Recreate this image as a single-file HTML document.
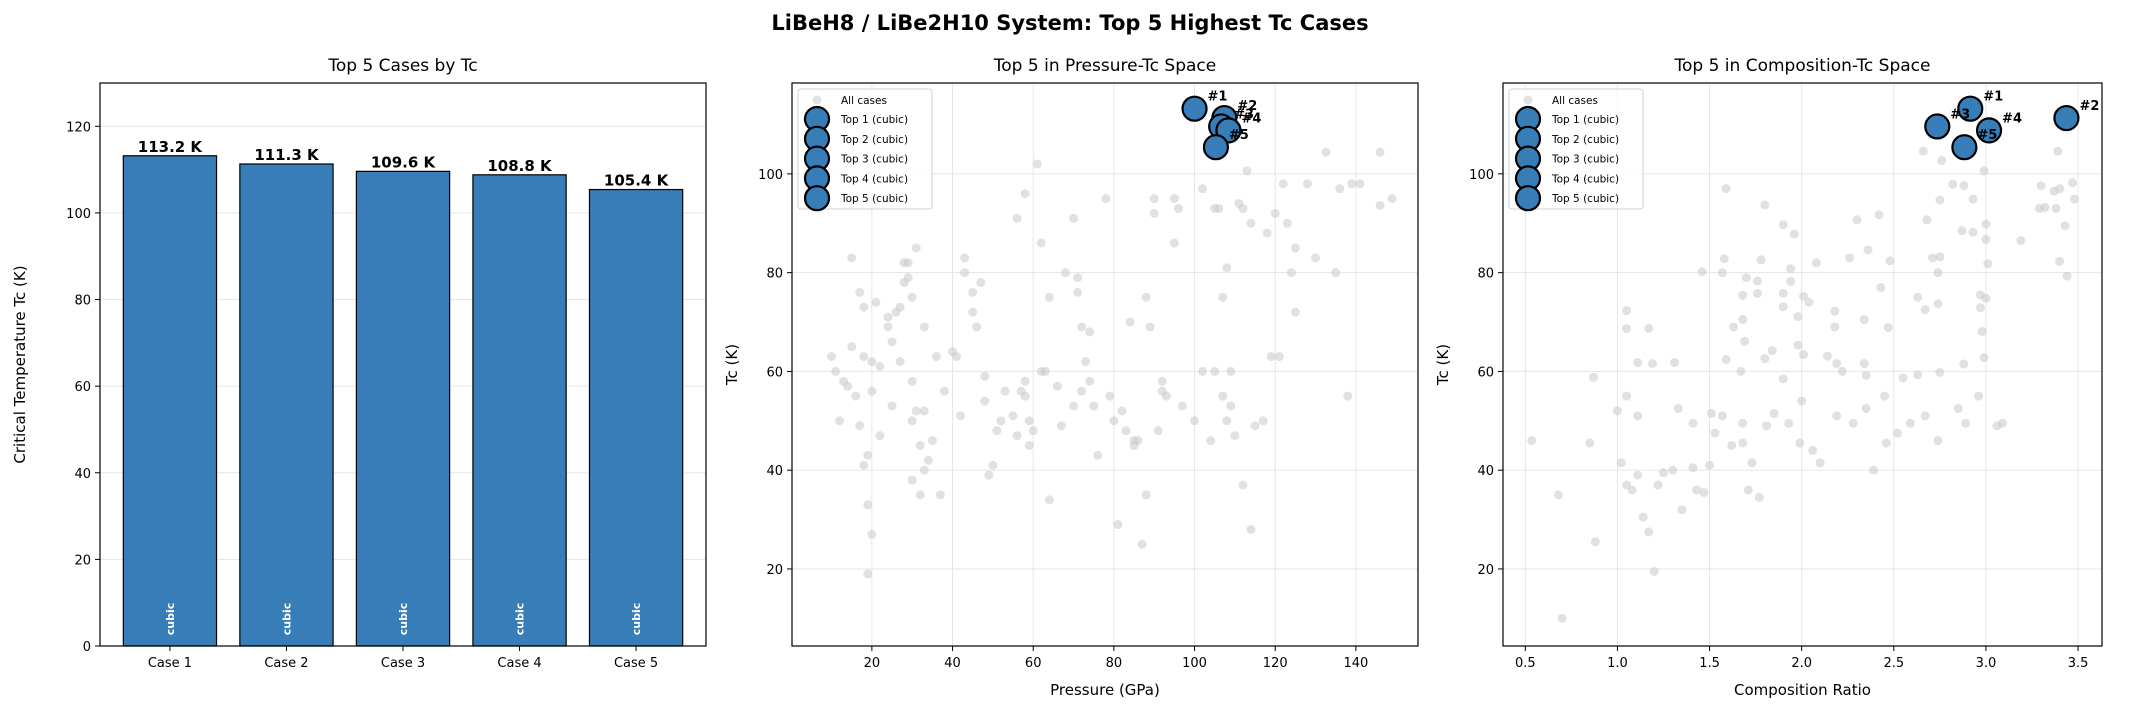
<!DOCTYPE html>
<html><head><meta charset="utf-8">
<style>
html,body{margin:0;padding:0;background:#fff;}
svg{display:block;font-family:"DejaVu Sans","Liberation Sans",sans-serif;}
</style></head>
<body>
<svg id="fig" width="2141" height="713" viewBox="0 0 2141 713" xmlns="http://www.w3.org/2000/svg">
<rect width="2141" height="713" fill="#fff"/>
<text x="1070" y="30" text-anchor="middle" font-size="21" font-weight="bold">LiBeH8 / LiBe2H10 System: Top 5 Highest Tc Cases</text>
</svg>
<script>
// ---------- data ----------
const caseLabels = ["Case 1","Case 2","Case 3","Case 4","Case 5"];
const topTc = [113.2,111.3,109.6,108.8,105.4];
const topStructure = ["cubic","cubic","cubic","cubic","cubic"];
const topPressure = [100.0,107.4,106.6,108.4,105.3];
const topComposition = [2.915,3.437,2.736,3.017,2.883];
const barTicks = [0,20,40,60,80,100,120];
const tcTicks = [20,40,60,80,100];
const pressureTicks = [20,40,60,80,100,120,140];
const compTicks = [0.5,1.0,1.5,2.0,2.5,3.0,3.5];
const compTickLabels = ["0.5","1.0","1.5","2.0","2.5","3.0","3.5"];
const allPressure = [10,11,12,13,14,15,15,16,17,17,18,18,18,19,19,19,20,20,21,22,22,24,24,25,25,26,27,27,28,28,29,29,30,30,31,30,31,32,32,33,33,34,35,36,37,38,40,41,42,43,43,45,45,46,47,48,48,49,50,51,52,53,55,56,58,58,58,59,59,60,61,62,62,63,64,64,66,67,68,70,71,71,72,72,73,74,74,75,76,78,79,80,81,82,83,84,85,86,87,88,88,89,90,90,91,92,92,95,95,96,100,102,102,104,105,105,106,107,107,108,109,109,110,111,112,112,113,114,115,117,118,119,120,121,123,124,125,125,128,130,132.6,135,136,139,141,146,146,149,138,108,85,20,30,33,57,70,93,97,56,122,114];
const allPressureTc = [63,60,50,58,57,83,65,55,49,76,73,63,41,43,33,19,56,62,74,61,47,71,69,66,53,72,73,62,78,82,82,79,75,58,85,50,52,45,35,52,69,42,46,63,35,56,64,63,51,83,80,76,72,69,78,54,59,39,41,48,50,56,51,91,96,58,55,50,45,48,102,86,60,60,75,34,57,49,80,91,79,76,69,56,62,68,58,53,43,95,55,50,29,52,48,70,46,46,25,75,35,69,92,95,48,56,58,95,86,93,50,97,60,46,93,60,93,75,55,81,60,53,47,94,37,93,100.6,28,49,50,88,63,92,63,90,80,72,85,98,83,104.4,80,97,98,98,104.4,93.6,95,55,50,45,27,38,40,56,53,55,53,47,98,90];
const allComp = [2.66,2.76,2.99,2.82,2.88,2.75,2.93,3.39,3.47,3.30,3.37,3.40,3.48,3.29,3.32,3.38,3.43,3.19,3.0,2.87,2.93,3.0,2.68,2.42,2.30,1.59,1.80,1.90,1.96,2.36,2.26,2.48,2.08,1.78,1.58,1.94,1.46,1.57,1.70,1.76,1.94,1.68,1.76,1.90,2.01,2.04,1.90,2.43,2.71,2.75,2.74,3.01,3.40,3.44,2.97,3.0,2.63,2.74,2.67,2.97,2.98,2.99,2.88,2.75,2.63,2.55,2.18,2.18,2.34,2.47,1.98,1.68,1.63,1.69,1.98,2.01,1.84,1.80,2.14,2.19,2.34,1.59,1.11,1.19,1.31,1.05,1.05,1.17,1.67,2.22,2.35,0.87,1.9,0.535,0.68,0.70,0.88,0.85,1.02,1.05,1.08,1.11,1.14,1.17,1.2,1.22,1.25,1.3,1.35,1.43,1.47,1.41,1.5,1.53,1.51,1.62,1.68,1.73,1.71,1.77,1.57,1.81,1.85,1.93,1.99,2.06,2.1,2.19,2.28,2.35,2.39,2.46,2.52,2.59,2.67,2.74,2.85,2.89,3.06,3.09,1.0,1.11,1.33,1.41,2.0,2.45,2.96,1.05,1.68];
const allCompTc = [104.6,102.7,100.6,97.9,97.6,94.7,94.9,104.6,98.2,97.6,96.5,97,94.9,93,93.2,93,89.5,86.5,89.8,88.5,88.2,86.7,90.7,91.7,90.7,97,93.7,89.7,87.8,84.6,83,82.4,82,82.6,82.8,80.8,80.2,80,79,78.3,78.2,75.4,75.8,75.8,75.2,74,73.1,77,83,83.2,80,81.8,82.3,79.3,75.5,74.8,75,73.7,72.5,72.9,68.1,62.8,61.5,59.8,59.3,58.7,72.2,69,70.5,68.9,71.1,70.5,69,66.1,65.3,63.4,64.2,62.6,63.1,61.6,61.6,62.4,61.8,61.6,61.8,72.3,68.7,68.7,60,60,59.2,58.8,58.5,46,35,10,25.5,45.5,41.5,37,36,39,30.5,27.5,19.5,37,39.5,40,32,36,35.5,40.5,41,47.5,51.5,45,45.5,41.5,36,34.5,51,49,51.5,49.5,45.5,44,41.5,51,49.5,52.5,40,45.5,47.5,49.5,51,46,52.5,49.5,49,49.5,52,51,52.5,49.5,54,55,55,55,49.5];

const NS="http://www.w3.org/2000/svg";
const fig=document.getElementById('fig');
function el(tag,attrs,parent){const e=document.createElementNS(NS,tag);for(const k in attrs)e.setAttribute(k,attrs[k]);(parent||fig).appendChild(e);return e;}
function txt(s,attrs,parent){const e=el('text',attrs,parent);e.textContent=s;return e;}
const BLUE="#377eb8";

function linScale(d0,d1,r0,r1){return v=>r0+(v-d0)*(r1-r0)/(d1-d0);}

// ---------- panel 1: bar chart ----------
(function(){
  const L=100,R=706,T=83,B=646;
  const g=el('g',{});
  
  
  const x=linScale(-0.6,4.6,L,R), y=linScale(0,130,B,T);
  txt("Top 5 Cases by Tc",{x:(L+R)/2,y:71,'text-anchor':'middle','font-size':17,},g);
  barTicks.forEach(t=>{
    el('line',{x1:L,x2:R,y1:y(t),y2:y(t),stroke:'#e6e6e6','stroke-width':1},g);
    el('line',{x1:L-5,x2:L,y1:y(t),y2:y(t),stroke:'#000','stroke-width':1},g);
    const lb=txt(String(t),{x:L-9,y:y(t)+5,'text-anchor':'end','font-size':13},g);
    
    
  });
  const bw=0.8*(x(1)-x(0));
  topTc.forEach((v,i)=>{
    const cx=x(i);
    const r=el('rect',{x:cx-bw/2,y:y(v),width:bw,height:B-y(v),fill:BLUE,stroke:'#000','stroke-width':1.2},g);
    
    
    const vl=txt(v.toFixed(1)+" K",{x:cx,y:y(v)-4,'text-anchor':'middle','font-size':15,'font-weight':'bold'},g);
    
    
    const st=txt(topStructure[i],{x:0,y:0,'text-anchor':'middle','font-size':11,'font-weight':'bold',fill:'#fff',transform:`translate(${cx+4},${B-27}) rotate(-90)`},g);
    
    
    el('line',{x1:cx,x2:cx,y1:B,y2:B+5,stroke:'#000','stroke-width':1},g);
    const xl=txt(caseLabels[i],{x:cx,y:667,'text-anchor':'middle','font-size':13},g);
    
    
  });
  el('rect',{x:L,y:T,width:R-L,height:B-T,fill:'none',stroke:'#000','stroke-width':1.2},g);
  const yl=txt("Critical Temperature Tc (K)",{x:0,y:0,'text-anchor':'middle','font-size':15,transform:`translate(25,${(T+B)/2}) rotate(-90)`},g);
  
  
})();

// ---------- scatter panels ----------
function scatterPanel(opt){
  const {L,R,T,B,xmin,xmax,ticks,tickLabels,xs,ys,topX,title,xlabel,ylabelX,legX,name,labelOff}=opt;
  const g=el('g',{});
  
  
  const x=linScale(xmin,xmax,L,R), y=linScale(4.4,118.4,B,T);
  txt(title,{x:(L+R)/2,y:71,'text-anchor':'middle','font-size':17},g);
  ticks.forEach((t,i)=>{
    el('line',{x1:x(t),x2:x(t),y1:T,y2:B,stroke:'#e6e6e6','stroke-width':1},g);
    el('line',{x1:x(t),x2:x(t),y1:B,y2:B+5,stroke:'#000','stroke-width':1},g);
    const lb=txt(tickLabels[i],{x:x(t),y:667,'text-anchor':'middle','font-size':13},g);
    
    
  });
  tcTicks.forEach(t=>{
    el('line',{x1:L,x2:R,y1:y(t),y2:y(t),stroke:'#e6e6e6','stroke-width':1},g);
    el('line',{x1:L-5,x2:L,y1:y(t),y2:y(t),stroke:'#000','stroke-width':1},g);
    const lb=txt(String(t),{x:L-9,y:y(t)+5,'text-anchor':'end','font-size':13},g);
    
    
  });
  xs.forEach((v,i)=>{
    const c=el('circle',{cx:x(v),cy:y(ys[i]),r:4.5,fill:'#c8c8c8','fill-opacity':0.55},g);
    
    
  });
  topX.forEach((v,i)=>{
    const c=el('circle',{cx:x(v),cy:y(topTc[i]),r:12,fill:BLUE,stroke:'#000','stroke-width':2.2},g);
    
    
  });
  topX.forEach((v,i)=>{
    const t=txt('#'+(i+1),{x:x(v)+labelOff[0],y:y(topTc[i])+labelOff[1],'font-size':13,'font-weight':'bold'},g);
    
    
  });
  el('rect',{x:L,y:T,width:R-L,height:B-T,fill:'none',stroke:'#000','stroke-width':1.2},g);
  const xt=txt(xlabel,{x:(L+R)/2,y:695,'text-anchor':'middle','font-size':15},g);
  
  
  const yt=txt("Tc (K)",{x:0,y:0,'text-anchor':'middle','font-size':15,transform:`translate(${ylabelX},${(T+B)/2}) rotate(-90)`},g);
  
  
  // legend
  const lg=el('g',{},g);
  
  
  el('rect',{x:legX,y:89,width:134,height:120,rx:3,fill:'#fff','fill-opacity':0.8,stroke:'#d0d0d0','stroke-width':1},lg);
  el('circle',{cx:legX+19,cy:100,r:4.5,fill:'#c8c8c8','fill-opacity':0.55},lg);
  const a=txt("All cases",{x:legX+43,y:104,'font-size':10.5},lg);
  
  
  for(let i=0;i<5;i++){
    const cy=119+i*19.8;
    el('circle',{cx:legX+19,cy:cy,r:12,fill:BLUE,stroke:'#000','stroke-width':2.2},lg);
    const e=txt(`Top ${i+1} (${topStructure[i]})`,{x:legX+43,y:cy+4,'font-size':10.5},lg);
    
    
  }
}
scatterPanel({L:792,R:1418,T:83,B:646,xmin:0.2,xmax:155.4,ticks:pressureTicks,tickLabels:pressureTicks.map(String),
  xs:allPressure,ys:allPressureTc,topX:topPressure,title:"Top 5 in Pressure-Tc Space",xlabel:"Pressure (GPa)",
  ylabelX:737,legX:798,name:'pressure-panel',labelOff:[13,-8]});
scatterPanel({L:1503,R:2102,T:83,B:646,xmin:0.379,xmax:3.63,ticks:compTicks,tickLabels:compTickLabels,
  xs:allComp,ys:allCompTc,topX:topComposition,title:"Top 5 in Composition-Tc Space",xlabel:"Composition Ratio",
  ylabelX:1448,legX:1509,name:'composition-panel',labelOff:[13,-8]});
</script>
</body></html>
